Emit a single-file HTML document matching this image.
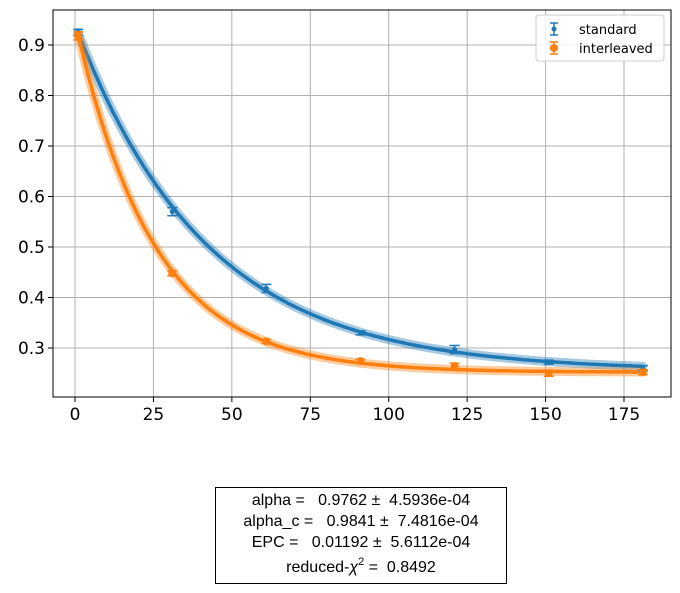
<!DOCTYPE html>
<html><head><meta charset="utf-8"><style>
body{margin:0;background:#fff;font-family:"Liberation Sans","DejaVu Sans",sans-serif}
svg text{font-family:"DejaVu Sans","Liberation Sans",sans-serif}
svg .box text{font-family:"Liberation Sans","DejaVu Sans",sans-serif}
</style></head><body>
<svg id="c" width="680" height="588" viewBox="0 0 680 588" xmlns="http://www.w3.org/2000/svg"></svg>
<script>
const xs=[1,31,61,91,121,151,181];
const stdVals=[0.925,0.570,0.418,0.330,0.297,0.272,0.260];
const stdErr=[0.006,0.008,0.008,0.004,0.008,0.004,0.005];
const intVals=[0.918,0.448,0.313,0.274,0.264,0.250,0.252];
const intErr=[0.008,0.005,0.004,0.004,0.006,0.006,0.005];
const stdFit=[0.686,0.9762,0.255];
const intFit=[0.696,0.9607,0.252];
const xTicks=[0,25,50,75,100,125,150,175];
const yTicks=[0.3,0.4,0.5,0.6,0.7,0.8,0.9];
const NS='http://www.w3.org/2000/svg';
const svg=document.getElementById('c');
const L=53,R=671,T=10,B=397;
const X=v=>75+(v-0)*(549/175);
const Y=v=>348-(v-0.3)*505;
function mk(t,a,p){const e=document.createElementNS(NS,t);for(const k in a)e.setAttribute(k,a[k]);(p||svg).appendChild(e);return e;}
const grid=mk('g',{});


xTicks.forEach(t=>{mk('line',{x1:X(t),x2:X(t),y1:T,y2:B,stroke:'#b0b0b0','stroke-width':1},grid);
const tx=mk('text',{x:X(t),y:B+23,'text-anchor':'middle','font-size':17,fill:'#000'});tx.textContent=t;


mk('line',{x1:X(t),x2:X(t),y1:B,y2:B+5,stroke:'#000'});});
yTicks.forEach(t=>{mk('line',{x1:L,x2:R,y1:Y(t),y2:Y(t),stroke:'#b0b0b0','stroke-width':1},grid);
const tx=mk('text',{x:L-8,y:Y(t)+6,'text-anchor':'end','font-size':17,fill:'#000'});tx.textContent=t.toFixed(1);


mk('line',{x1:L-5,x2:L,y1:Y(t),y2:Y(t),stroke:'#000'});});
function curve(p,col,name){let d='';for(let x=1;x<=181;x+=1){const v=p[0]*Math.pow(p[1],x)+p[2];d+=(x===1?'M':'L')+X(x).toFixed(1)+','+Y(v).toFixed(1);}
const band=mk('path',{d:d,fill:'none',stroke:col,'stroke-width':9,'stroke-opacity':0.4,'stroke-linecap':'round'});


const ln=mk('path',{d:d,fill:'none',stroke:col,'stroke-width':3.5});

}
curve(stdFit,'#1f77b4','standard');
curve(intFit,'#ff7f0e','interleaved');
function pts(vals,err,col,r,name){vals.forEach((v,i)=>{const g=mk('g',{});


const x=X(xs[i]);mk('line',{x1:x,x2:x,y1:Y(v+err[i]),y2:Y(v-err[i]),stroke:col,'stroke-width':1.5},g);
mk('line',{x1:x-5,x2:x+5,y1:Y(v+err[i]),y2:Y(v+err[i]),stroke:col,'stroke-width':1.5},g);
mk('line',{x1:x-5,x2:x+5,y1:Y(v-err[i]),y2:Y(v-err[i]),stroke:col,'stroke-width':1.5},g);
mk('circle',{cx:x,cy:Y(v),r:r,fill:col},g);});}
pts(stdVals,stdErr,'#1f77b4',2.5,'standard');
pts(intVals,intErr,'#ff7f0e',4,'interleaved');
const fr=mk('rect',{x:L,y:T,width:R-L,height:B-T,fill:'none',stroke:'#000','stroke-width':1});


const lg=mk('g',{});


mk('rect',{x:536,y:15,width:128,height:46,rx:3,fill:'#fff','fill-opacity':0.85,stroke:'#ccc'},lg);
[['standard','#1f77b4',2.5,29],['interleaved','#ff7f0e',4,48]].forEach(e=>{
const g=mk('g',{},lg);


mk('line',{x1:554,x2:554,y1:e[3]-6,y2:e[3]+6,stroke:e[1],'stroke-width':1.5},g);
mk('line',{x1:550,x2:558,y1:e[3]-6,y2:e[3]-6,stroke:e[1],'stroke-width':1.5},g);
mk('line',{x1:550,x2:558,y1:e[3]+6,y2:e[3]+6,stroke:e[1],'stroke-width':1.5},g);
mk('circle',{cx:554,cy:e[3],r:e[2],fill:e[1]},g);
const t=mk('text',{x:579,y:e[3]+5,'font-size':13,fill:'#000'},g);t.textContent=e[0];});
const sb=mk('g',{class:'box'});


mk('rect',{x:215.5,y:487.5,width:291,height:96,fill:'#fff',stroke:'#000','stroke-width':1},sb);
const lines=['alpha =   0.9762 ±  4.5936e-04','alpha_c =   0.9841 ±  7.4816e-04','EPC =   0.01192 ±  5.6112e-04'];
lines.forEach((s,i)=>{const t=mk('text',{x:361,y:505+i*21,'text-anchor':'middle','font-size':16,fill:'#000'},sb);t.setAttribute('style','white-space:pre');t.textContent=s;});
const t4=mk('text',{x:361,y:572,'text-anchor':'middle','font-size':16,fill:'#000'},sb);
t4.setAttribute('style','white-space:pre');
t4.innerHTML='reduced-<tspan font-style="italic">χ</tspan><tspan dy="-7" font-size="11">2</tspan><tspan dy="7"> =  0.8492</tspan>';
</script>
</body></html>
